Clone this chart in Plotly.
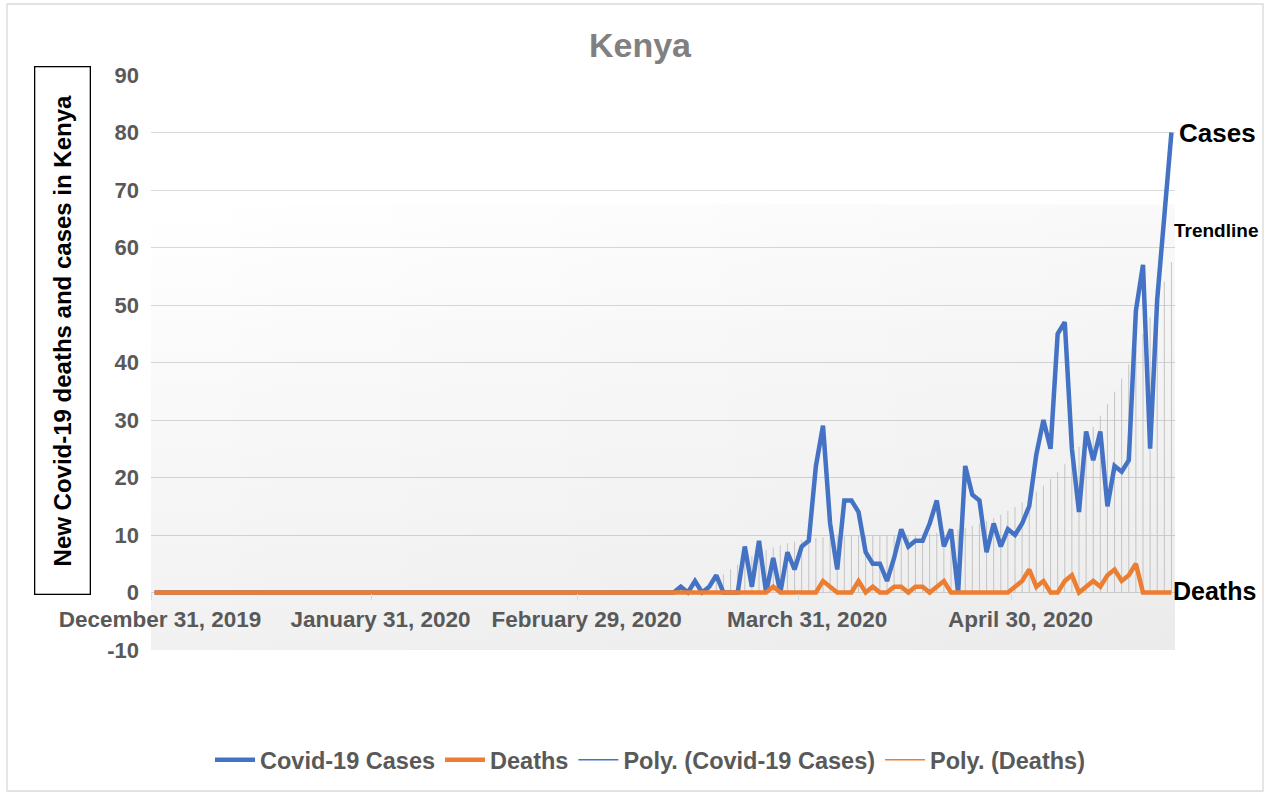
import numpy as np
import pandas as pd
import plotly.graph_objects as go

# ---------------- data ----------------
start_date = "2019-12-31"
n_days = 144
dates = pd.date_range(start_date, periods=n_days, freq="D") + pd.Timedelta(hours=12)

# daily new Covid-19 cases (Dec 31, 2019 -> May 22, 2020)
cases = [
    0, 0, 0, 0, 0, 0, 0, 0, 0, 0,   # days 0-9
    0, 0, 0, 0, 0, 0, 0, 0, 0, 0,   # 10-19
    0, 0, 0, 0, 0, 0, 0, 0, 0, 0,   # 20-29
    0, 0, 0, 0, 0, 0, 0, 0, 0, 0,   # 30-39
    0, 0, 0, 0, 0, 0, 0, 0, 0, 0,   # 40-49
    0, 0, 0, 0, 0, 0, 0, 0, 0, 0,   # 50-59
    0, 0, 0, 0, 0, 0, 0, 0, 0, 0,   # 60-69
    0, 0, 0, 0, 1, 0, 2, 0, 1, 3,   # 70-79
    0, 0, 0, 8, 1, 9, 0, 6, 0, 7,   # 80-89
    4, 8, 9, 22, 29, 12, 4, 16, 16, 14,   # 90-99
    7, 5, 5, 2, 6, 11, 8, 9, 9, 12,       # 100-109
    16, 8, 11, 0, 22, 17, 16, 7, 12, 8,   # 110-119
    11, 10, 12, 15, 24, 30, 25, 45, 47, 25,   # 120-129
    14, 28, 23, 28, 15, 22, 21, 23, 49, 57,   # 130-139
    25, 51, 65, 80,                           # 140-143
]

# daily new Covid-19 deaths
deaths = [
    0, 0, 0, 0, 0, 0, 0, 0, 0, 0,
    0, 0, 0, 0, 0, 0, 0, 0, 0, 0,
    0, 0, 0, 0, 0, 0, 0, 0, 0, 0,
    0, 0, 0, 0, 0, 0, 0, 0, 0, 0,
    0, 0, 0, 0, 0, 0, 0, 0, 0, 0,
    0, 0, 0, 0, 0, 0, 0, 0, 0, 0,
    0, 0, 0, 0, 0, 0, 0, 0, 0, 0,
    0, 0, 0, 0, 0, 0, 0, 0, 0, 0,   # 70-79
    0, 0, 0, 0, 0, 0, 0, 1, 0, 0,   # 80-89
    0, 0, 0, 0, 2, 1, 0, 0, 0, 2,   # 90-99
    0, 1, 0, 0, 1, 1, 0, 1, 1, 0,   # 100-109
    1, 2, 0, 0, 0, 0, 0, 0, 0, 0,   # 110-119
    0, 1, 2, 4, 1, 2, 0, 0, 2, 3,   # 120-129
    0, 1, 2, 1, 3, 4, 2, 3, 5, 0,   # 130-139
    0, 0, 0, 0,                     # 140-143
]

tick_dates = ["2019-12-31", "2020-01-31", "2020-02-29", "2020-03-31", "2020-04-30"]
tick_labels = ["December 31, 2019", "January 31, 2020", "February 29, 2020",
               "March 31, 2020", "April 30, 2020"]
y_ticks = list(range(-10, 91, 10))
y_tick_labels = [str(v) for v in y_ticks]

series_names = ["Covid-19 Cases", "Deaths", "Poly. (Covid-19 Cases)", "Poly. (Deaths)"]

# ---------------- styling constants ----------------
BLUE = "#4472C4"
ORANGE = "#ED7D31"
GRID = "#d9d9d9"
TXT = "#595959"
FONT = "Liberation Sans, Arial, sans-serif"

x_start = pd.Timestamp(start_date)
x_end = x_start + pd.Timedelta(days=n_days)
y_min, y_max = -10, 90
bg_top = 67.5

# polynomial (order 3) trend of cases from the first reported case onward,
# drawn as thin drop lines
c_arr = np.array(cases, dtype=float)
day_idx = np.arange(n_days)
first_case = int(np.argmax(c_arr > 0))
fit_mask = day_idx >= first_case
trend = np.full(n_days, np.nan)
trend[fit_mask] = np.polyval(np.polyfit(day_idx[fit_mask], c_arr[fit_mask], 3),
                             day_idx[fit_mask])
trend_pos = np.clip(np.nan_to_num(trend), 0, None)

fig = go.Figure()

# subtle gradient plot-area background
bg_x = [x_start, x_end, x_end, x_start, x_start]
bg_y = [y_min, y_min, bg_top, bg_top, y_min]
fig.add_trace(go.Scatter(
    x=bg_x, y=bg_y, mode="none", fill="toself",
    fillgradient=dict(type="vertical",
                      colorscale=[[0, "rgba(0,0,0,0.055)"], [1, "rgba(0,0,0,0)"]]),
    hoverinfo="skip", showlegend=False))
fig.add_trace(go.Scatter(
    x=bg_x, y=bg_y, mode="none", fill="toself",
    fillgradient=dict(type="horizontal",
                      colorscale=[[0, "rgba(0,0,0,0.0)"], [1, "rgba(0,0,0,0.025)"]]),
    hoverinfo="skip", showlegend=False))

# drop lines to polynomial trend
fig.add_trace(go.Scatter(
    x=dates, y=np.zeros(n_days), mode="markers",
    marker=dict(size=1, color="rgba(0,0,0,0)"),
    error_y=dict(type="data", symmetric=False, array=trend_pos,
                 arrayminus=np.zeros(n_days), width=0, thickness=1, color="#c4c4c4"),
    hoverinfo="skip", showlegend=False))

fig.add_trace(go.Scatter(x=dates, y=cases, mode="lines", name=series_names[0],
                         line=dict(color=BLUE, width=4.5)))
fig.add_trace(go.Scatter(x=dates, y=deaths, mode="lines", name=series_names[1],
                         line=dict(color=ORANGE, width=4.5)))
fig.add_trace(go.Scatter(x=[None], y=[None], mode="lines", name=series_names[2],
                         line=dict(color=BLUE, width=1.5)))
fig.add_trace(go.Scatter(x=[None], y=[None], mode="lines", name=series_names[3],
                         line=dict(color=ORANGE, width=1.5)))

fig.update_layout(
    width=1266, height=795,
    margin=dict(l=151, r=91, t=75, b=145),
    paper_bgcolor="white", plot_bgcolor="white",
    font=dict(family=FONT, color=TXT, size=22, weight="bold"),
    title=dict(text="Kenya", x=640 / 1266, xref="container", xanchor="center",
               y=1 - 45 / 795, yref="container", yanchor="middle",
               font=dict(family=FONT, size=34, color="#808080", weight="bold")),
    xaxis=dict(type="date", range=[x_start, x_end], tickmode="array",
               tickvals=tick_dates, ticktext=tick_labels,
               showgrid=False, zeroline=False, showline=False,
               ticks="outside", ticklen=6, tickcolor=GRID, tickwidth=1.3,
               anchor="free", position=(0 - y_min) / (y_max - y_min),
               ticklabelshift=9, ticklabelstandoff=0,
               tickfont=dict(family=FONT, size=22.5, color=TXT, weight="bold")),
    yaxis=dict(range=[y_min, y_max], tickmode="array", tickvals=y_ticks,
               ticktext=y_tick_labels,
               showgrid=True, gridcolor=GRID, gridwidth=1.3, zeroline=False,
               showline=False, ticks="", ticklabelstandoff=11,
               tickfont=dict(family=FONT, size=22, color=TXT, weight="bold")),
    legend=dict(orientation="h", xref="container", yref="container",
                x=650 / 1266, xanchor="center", y=1 - 760 / 795, yanchor="middle",
                font=dict(family=FONT, size=23.5, color=TXT, weight="bold"),
                bgcolor="rgba(0,0,0,0)", itemwidth=40, tracegroupgap=0),
    showlegend=True,
)

# y-axis title in a black box
fig.add_annotation(
    text="New Covid-19 deaths and cases in Kenya", textangle=-90,
    xref="paper", yref="paper",
    x=(62.5 - 151) / 1024, y=(650 - 330.5) / 575,
    xanchor="center", yanchor="middle", showarrow=False,
    width=526, height=54, borderpad=0, bordercolor="black", borderwidth=1.3,
    font=dict(family=FONT, size=24, color="black", weight="bold"))

fig.add_annotation(text="Cases", xref="paper", yref="y", x=(1177 - 151) / 1024, y=80,
                   xanchor="left", yanchor="middle", showarrow=False,
                   font=dict(family=FONT, size=26, color="black", weight="bold"))
fig.add_annotation(text="Trendline", xref="paper", yref="y", x=(1172 - 151) / 1024, y=63,
                   xanchor="left", yanchor="middle", showarrow=False,
                   font=dict(family=FONT, size=19, color="black", weight="bold"))
fig.add_annotation(text="Deaths", xref="paper", yref="y", x=(1171 - 151) / 1024, y=0.3,
                   xanchor="left", yanchor="middle", showarrow=False,
                   font=dict(family=FONT, size=25, color="black", weight="bold"))

# outer chart border
fig.add_shape(type="rect", xref="paper", yref="paper",
              x0=(7 - 151) / 1024, x1=(1263 - 151) / 1024,
              y0=(650 - 791) / 575, y1=(650 - 4) / 575,
              line=dict(color=GRID, width=1.3), fillcolor="rgba(0,0,0,0)", layer="below")

fig.write_html("out.html", config={"displayModeBar": False},
               post_script="document.body.style.margin='0';document.body.style.overflow='hidden';")
